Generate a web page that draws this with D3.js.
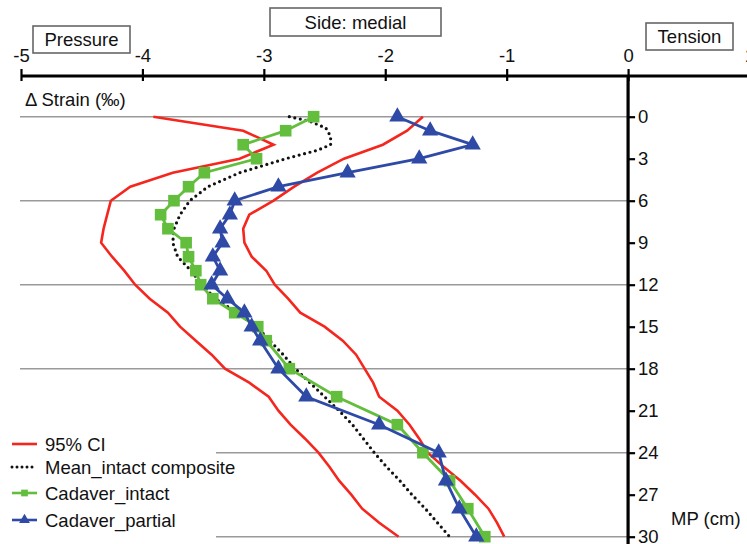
<!DOCTYPE html>
<html>
<head>
<meta charset="utf-8">
<script src="https://cdn.jsdelivr.net/npm/d3@7"></script>
<style>
  body { margin: 0; background: #fff; }
  svg { display: block; font-family: "Liberation Sans", Arial, sans-serif; }
</style>
</head>
<body>
<svg id="chart" width="747" height="544"></svg>
<script>
// depth along MP (cm) and strain values (‰)
const ciDepth = d3.range(0, 31)
const ciLow = [-3.91, -3.17, -2.92, -3.2, -3.75, -4.1, -4.26, -4.29, -4.32, -4.34, -4.25,
  -4.15, -4.06, -3.94, -3.79, -3.69, -3.56, -3.43, -3.32, -3.12, -2.96,
  -2.88, -2.78, -2.66, -2.55, -2.46, -2.38, -2.28, -2.19, -2.05, -1.89]
const ciHigh = [-1.69, -1.82, -2.02, -2.34, -2.56, -2.75, -2.92, -3.12, -3.17, -3.16, -3.1,
  -2.98, -2.91, -2.8, -2.7, -2.5, -2.35, -2.24, -2.17, -2.1, -2.05,
  -1.9, -1.8, -1.72, -1.65, -1.52, -1.38, -1.26, -1.15, -1.08, -1.02]

const meanDepth = [0, 0.3, 0.8, 1.4, 2, 2.4, 3, 4, 5, 6, 7, 8, 9, 10, 11, 12, 13, 14, 15, 16,
  17, 18, 19, 20, 21, 22, 23, 24, 25, 26, 27, 28, 29, 30]
const meanIntact = [-2.79, -2.63, -2.49, -2.45, -2.45, -2.56, -2.82, -3.2, -3.46, -3.61, -3.69,
  -3.74, -3.75, -3.71, -3.6, -3.51, -3.4, -3.22, -3.06, -2.95, -2.84, -2.74,
  -2.62, -2.5, -2.38, -2.27, -2.18, -2.09, -1.99, -1.88, -1.78, -1.67, -1.57, -1.47]

const cadDepth = [0, 1, 2, 3, 4, 5, 6, 7, 8, 9, 10, 11, 12, 13, 14, 15, 16, 18, 20, 22, 24, 26, 28, 30]
const cadIntact = [-2.59, -2.82, -3.17, -3.06, -3.49, -3.62, -3.74, -3.85, -3.79, -3.64, -3.62,
  -3.56, -3.52, -3.42, -3.24, -3.05, -2.98, -2.79, -2.4, -1.9, -1.69, -1.47, -1.32, -1.18]
const cadPartial = [-1.9, -1.63, -1.28, -1.72, -2.31, -2.88, -3.24, -3.28, -3.36, -3.34, -3.42,
  -3.36, -3.43, -3.3, -3.16, -3.1, -3.03, -2.88, -2.65, -2.05, -1.56, -1.5, -1.39, -1.25]

const xTicks = [-5, -4, -3, -2, -1, 0, 1]
const yTicks = d3.range(0, 31, 3)
const gridDepths = [0, 6, 12, 18, 24, 30]

const RED = '#f5261e'
const GREEN = '#62be3c'
const BLUE = '#2f4aa6'

const svg = d3.select('#chart')

const x = d3.scaleLinear().domain([-5, 1]).range([21, 749.5])
const y = d3.scaleLinear().domain([0, 30]).range([116.7, 536.7])
const axisY = 76

const zip = (ds, vs) => ds.map((d, i) => [vs[i], d])
const line = d3.line().x(d => x(d[0])).y(d => y(d[1]))

// grid lines
svg.append('g')
  .selectAll('line')
  .data(gridDepths)
  .join('line')
    .attr('x1', x(-5) - 1)
    .attr('x2', x(0))
    .attr('y1', d => y(d))
    .attr('y2', d => y(d))
    .attr('stroke', '#9a9a9a')
    .attr('stroke-width', 1.6)

// top axis (strain)
const gx = svg.append('g')
  .attr('transform', `translate(0,${axisY})`)
  .call(d3.axisTop(x).tickValues(xTicks).tickSizeOuter(0).tickPadding(8).tickFormat(d => String(d)))
gx.select('.domain').attr('stroke-width', 3.2).attr('d', `M${x(-5)},0H${x(1)}`)
gx.selectAll('.tick line').attr('y1', 5).attr('y2', -7).attr('stroke-width', 2.2)
gx.selectAll('.tick text').attr('font-size', 18.5).attr('fill', '#111')
  .attr('font-family', '"Liberation Sans", Arial, sans-serif')

// vertical axis at zero (MP)
svg.append('line')
  .attr('x1', x(0)).attr('x2', x(0))
  .attr('y1', axisY).attr('y2', 544)
  .attr('stroke', '#000').attr('stroke-width', 3.2)
const gy = svg.append('g')
  .attr('transform', `translate(${x(0)},0)`)
  .call(d3.axisRight(y).tickValues(yTicks).tickSize(7).tickPadding(3))
gy.select('.domain').remove()
gy.selectAll('.tick line').attr('stroke-width', 2.2)
gy.selectAll('.tick text').attr('font-size', 18.5).attr('fill', '#111')
  .attr('font-family', '"Liberation Sans", Arial, sans-serif')

// series
const plot = svg.append('g')
plot.append('path').attr('d', line(zip(ciDepth, ciLow)))
  .attr('fill', 'none').attr('stroke', RED).attr('stroke-width', 2.6)
plot.append('path').attr('d', line(zip(ciDepth, ciHigh)))
  .attr('fill', 'none').attr('stroke', RED).attr('stroke-width', 2.6)
plot.append('path').attr('d', line(zip(meanDepth, meanIntact)))
  .attr('fill', 'none').attr('stroke', '#111').attr('stroke-width', 3.2)
  .attr('stroke-linecap', 'round').attr('stroke-dasharray', '0,5.6')

const sq = d3.symbol().type(d3.symbolSquare).size(135)
const tri = d3.symbol().type(d3.symbolTriangle).size(115)

plot.append('path').attr('d', line(zip(cadDepth, cadIntact)))
  .attr('fill', 'none').attr('stroke', GREEN).attr('stroke-width', 2.8)
plot.append('g').selectAll('path')
  .data(zip(cadDepth, cadIntact))
  .join('path')
    .attr('transform', d => `translate(${x(d[0])},${y(d[1])})`)
    .attr('d', sq)
    .attr('fill', GREEN)

plot.append('path').attr('d', line(zip(cadDepth, cadPartial)))
  .attr('fill', 'none').attr('stroke', BLUE).attr('stroke-width', 2.8)
plot.append('g').selectAll('path')
  .data(zip(cadDepth, cadPartial))
  .join('path')
    .attr('transform', d => `translate(${x(d[0])},${y(d[1])})`)
    .attr('d', tri)
    .attr('fill', BLUE)

// label boxes
const boxes = [
  { text: 'Pressure', x0: 33, y0: 26, w: 97, h: 27 },
  { text: 'Side: medial', x0: 270, y0: 8, w: 171, h: 28 },
  { text: 'Tension', x0: 646, y0: 23, w: 87, h: 27 }
]
const gb = svg.append('g').selectAll('g').data(boxes).join('g')
gb.append('rect')
  .attr('x', d => d.x0).attr('y', d => d.y0)
  .attr('width', d => d.w).attr('height', d => d.h)
  .attr('fill', '#fff').attr('stroke', '#666').attr('stroke-width', 1.6)
gb.append('text')
  .attr('x', d => d.x0 + d.w / 2).attr('y', d => d.y0 + d.h / 2 + 6.5)
  .attr('text-anchor', 'middle').attr('font-size', 18.5).attr('fill', '#111')
  .text(d => d.text)

svg.append('text').attr('x', 25).attr('y', 106)
  .attr('font-size', 18.5).attr('fill', '#111').text('Δ Strain (‰)')
svg.append('text').attr('x', 671).attr('y', 525)
  .attr('font-size', 18.5).attr('fill', '#111').text('MP (cm)')

// legend
const legend = svg.append('g')
legend.append('rect').attr('x', 0).attr('y', 432).attr('width', 216).attr('height', 112).attr('fill', '#fff')
const items = [
  { name: '95% CI', cy: 444, kind: 'ci' },
  { name: 'Mean_intact composite', cy: 467, kind: 'mean' },
  { name: 'Cadaver_intact', cy: 493, kind: 'intact' },
  { name: 'Cadaver_partial', cy: 520, kind: 'partial' }
]
const li = legend.selectAll('g.item').data(items).join('g').attr('class', 'item')
li.append('line')
  .attr('x1', 12).attr('x2', 37)
  .attr('y1', d => d.cy).attr('y2', d => d.cy)
  .attr('stroke', d => ({ ci: RED, mean: '#111', intact: GREEN, partial: BLUE })[d.kind])
  .attr('stroke-width', d => d.kind === 'mean' ? 3 : 2.6)
  .attr('stroke-linecap', d => d.kind === 'mean' ? 'round' : 'butt')
  .attr('stroke-dasharray', d => d.kind === 'mean' ? '0,5' : null)
li.filter(d => d.kind === 'intact').append('path')
  .attr('transform', d => `translate(24.5,${d.cy})`)
  .attr('d', d3.symbol().type(d3.symbolSquare).size(45)).attr('fill', GREEN)
li.filter(d => d.kind === 'partial').append('path')
  .attr('transform', d => `translate(24.5,${d.cy})`)
  .attr('d', d3.symbol().type(d3.symbolTriangle).size(50)).attr('fill', BLUE)
li.append('text')
  .attr('x', 45).attr('y', d => d.cy + 6.5)
  .attr('font-size', 18.5).attr('fill', '#111')
  .text(d => d.name)
</script>
</body>
</html>
